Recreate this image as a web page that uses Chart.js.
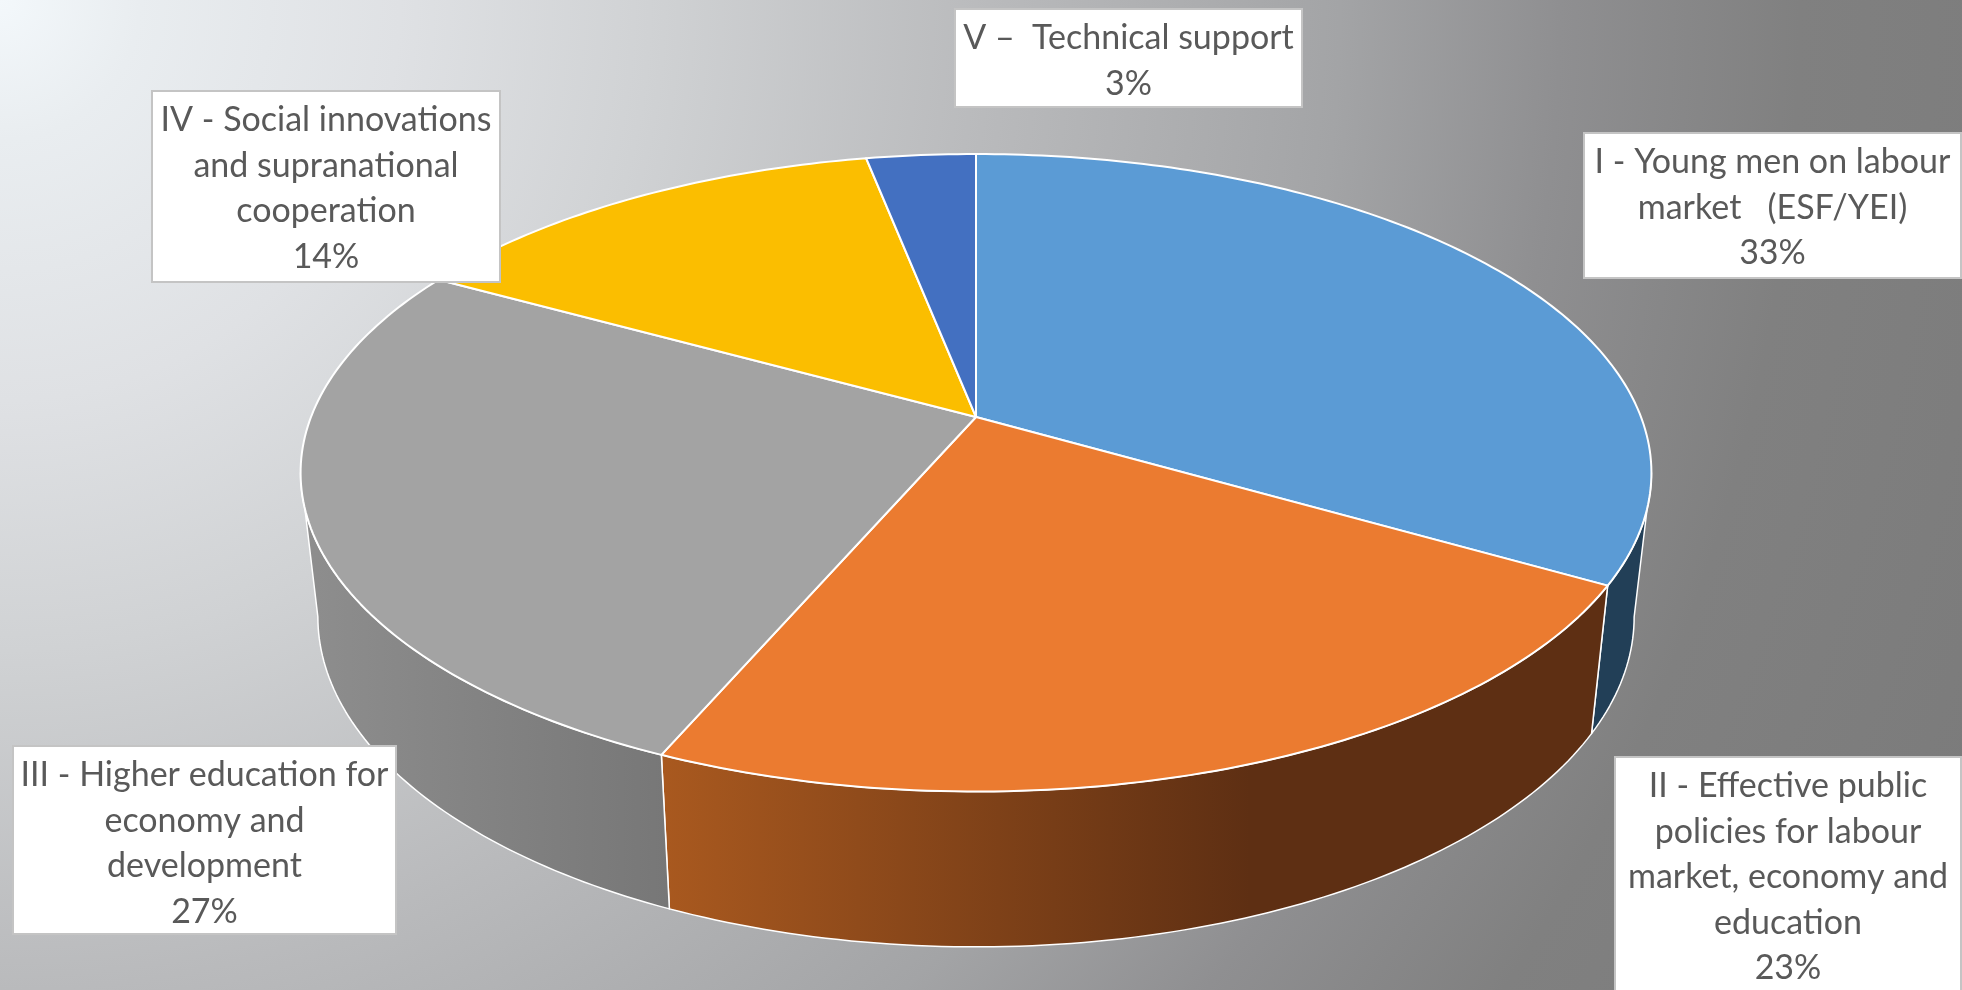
<!DOCTYPE html>
<html lang="en">
<head>
    <meta charset="UTF-8">
    <title>Programme budget shares</title>
    <script src="https://cdn.jsdelivr.net/npm/chart.js"></script>
    <style>
        html, body {
            margin: 0;
            padding: 0;
            overflow: hidden;
        }
        body {
            width: 1962px;
            height: 990px;
            background: radial-gradient(circle 2200px at 0 0,
                #f3f8fb 0px, #e9edf0 140px, #dfe1e4 400px, #d0d2d4 650px, #b9babc 990px,
                #a3a4a6 1340px, #8f8f91 1560px, #808080 1800px, #7a7a7a 2200px);
        }
        canvas { display: block; }
    </style>
</head>
<body>
    <canvas id="pieChart" width="1962" height="990"></canvas>

    <script>
        // values, slices go clockwise from 12 o'clock
        const categories = [
            ['I - Young men on labour', 'market   (ESF/YEI)'],
            ['II - Effective public', 'policies for labour', 'market, economy and', 'education'],
            ['III - Higher education for', 'economy and', 'development'],
            ['IV - Social innovations', 'and supranational', 'cooperation'],
            ['V \u2013  Technical support']
        ];
        const shares = [33.3, 23.2, 26.5, 13.9, 3.1];

        const topColors = ['#5b9bd5', '#eb7b30', '#a3a3a3', '#fbbe00', '#4370c1'];
        const wallLeft = ['#223f57', '#a9591f', '#8e8e8e', '#7f6000', '#203864'];
        const wallRight = ['#223f57', '#5e2f13', '#777777', '#7f6000', '#203864'];

        // label boxes: x, y, w, h in page pixels
        const boxes = [
            [1584, 133, 377, 145],
            [1615, 757, 346, 240],
            [13, 746, 383, 188],
            [152, 91, 348, 191],
            [955, 9, 347, 98]
        ];

        // perspective of the top and bottom discs of the pie
        const tilt = 0.175;
        const topDisc = { cx: 976, cy: 417, ax: 665, ay: 309 };
        const bottomDisc = { cx: 976, cy: 559, ax: 648, ay: 320 };

        // only this angle range of the wall faces the viewer
        const wallFrom = Math.asin(tilt);
        const wallTo = Math.PI - wallFrom;

        function project(disc, angle) {
            const u = Math.cos(angle), v = Math.sin(angle);
            const w = 1 - tilt * v;
            return [disc.cx + disc.ax * u / w, disc.cy + disc.ay * v / w];
        }

        function arcPoints(disc, a0, a1) {
            const pts = [];
            const n = Math.max(2, Math.ceil(Math.abs(a1 - a0) * 60));
            for (let i = 0; i <= n; i++) {
                pts.push(project(disc, a0 + (a1 - a0) * i / n));
            }
            return pts;
        }

        function tracePath(ctx, pts) {
            ctx.beginPath();
            pts.forEach((p, i) => i ? ctx.lineTo(p[0], p[1]) : ctx.moveTo(p[0], p[1]));
            ctx.closePath();
        }

        // draws the library's arcs (their computed angles) as a tilted 3D pie
        const pie3d = {
            id: 'pie3d',
            beforeDatasetsDraw(chart) {
                const ctx = chart.ctx;
                const arcs = chart.getDatasetMeta(0).data;

                ctx.save();
                ctx.lineJoin = 'round';
                ctx.strokeStyle = '#ffffff';

                // side walls first, the top face covers their upper edge
                arcs.forEach((arc, i) => {
                    const a0 = Math.max(arc.startAngle, wallFrom);
                    const a1 = Math.min(arc.endAngle, wallTo);
                    if (a1 <= a0) return;
                    const top = arcPoints(topDisc, a0, a1);
                    const bottom = arcPoints(bottomDisc, a1, a0);
                    const xs = top.concat(bottom).map(p => p[0]);
                    // the orange wall reaches its dark end well before the seam
                    const x0 = Math.min(...xs);
                    const x1 = i === 1 ? 1250 : Math.max(...xs);
                    const grad = ctx.createLinearGradient(x0, 0, x1, 0);
                    grad.addColorStop(0, wallLeft[i]);
                    grad.addColorStop(1, wallRight[i]);
                    tracePath(ctx, top.concat(bottom));
                    ctx.fillStyle = grad;
                    ctx.fill();
                    ctx.lineWidth = 1.5;
                    ctx.stroke();
                });

                // top face
                arcs.forEach((arc, i) => {
                    const pts = [[topDisc.cx, topDisc.cy]].concat(arcPoints(topDisc, arc.startAngle, arc.endAngle));
                    tracePath(ctx, pts);
                    ctx.fillStyle = topColors[i];
                    ctx.fill();
                    ctx.lineWidth = 2;
                    ctx.stroke();
                });
                ctx.restore();
                return false;
            },
            afterDraw(chart) {
                const ctx = chart.ctx;
                ctx.save();
                ctx.textAlign = 'center';
                ctx.textBaseline = 'alphabetic';
                ctx.font = '34px Lato, "Open Sans", sans-serif';
                categories.forEach((lines, i) => {
                    const [x, y, w, h] = boxes[i];
                    ctx.fillStyle = '#ffffff';
                    ctx.fillRect(x, y, w, h);
                    ctx.strokeStyle = '#c4c4c4';
                    ctx.lineWidth = 2;
                    ctx.strokeRect(x, y, w, h);
                    ctx.fillStyle = '#595959';
                    lines.concat(Math.round(shares[i]) + '%').forEach((line, k) => {
                        ctx.fillText(line, x + w / 2, y + 40 + k * 45.5);
                    });
                });
                ctx.restore();
            }
        };

        new Chart(document.getElementById('pieChart'), {
            type: 'pie',
            data: {
                labels: categories.map(lines => lines.join(' ')),
                datasets: [{
                    data: shares,
                    backgroundColor: topColors,
                    borderColor: '#ffffff'
                }]
            },
            options: {
                responsive: false,
                animation: false,
                plugins: {
                    legend: { display: false },
                    tooltip: { enabled: false }
                }
            },
            plugins: [pie3d]
        });
    </script>
</body>
</html>
